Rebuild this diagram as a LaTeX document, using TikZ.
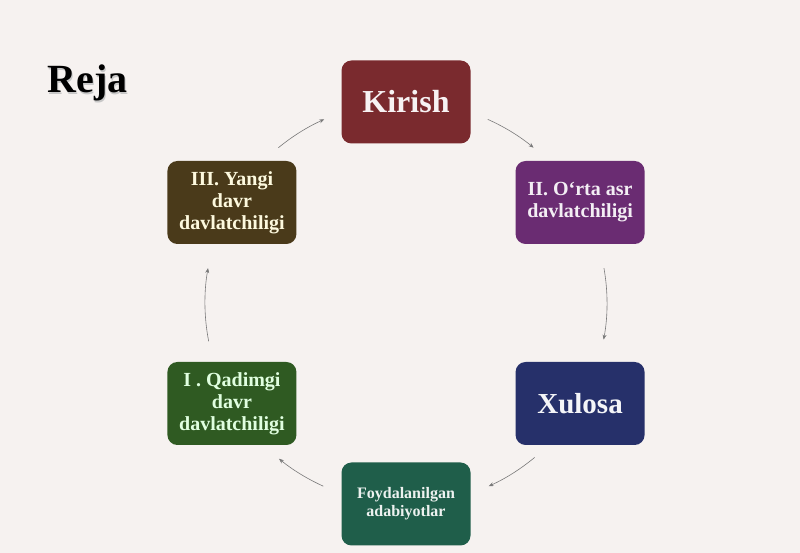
\documentclass[tikz,border=0pt]{standalone}
\usepackage{fontspec}
\setmainfont{Liberation Serif}
\usetikzlibrary{arrows.meta,calc}
\definecolor{bgc}{HTML}{F6F2F0}
\definecolor{cKir}{HTML}{7A2A2E}
\definecolor{cOrt}{HTML}{6A2C72}
\definecolor{cXul}{HTML}{26306A}
\definecolor{cFoy}{HTML}{1F5E4A}
\definecolor{cQad}{HTML}{2F5A22}
\definecolor{cYan}{HTML}{4A3A1A}
\definecolor{arrc}{HTML}{7A7A7A}
\tikzset{
  box/.style={rounded corners=10pt, minimum width=129pt, minimum height=83pt,
    inner sep=0pt, align=center},
  midtext/.style={font=\bfseries\fontsize{20}{22}\selectfont},
  arr/.style={draw=arrc, line width=0.6pt, -{Stealth[length=5pt,width=4pt]}}
}
\begin{document}
\begin{tikzpicture}[x=1pt,y=1pt]
\fill[bgc] (0,0) rectangle (800,553);
\useasboundingbox (0,0) rectangle (800,553);
\coordinate (ctr) at (406,250);
% title
\node[anchor=base, font=\bfseries\fontsize{40}{44}\selectfont, text=black!22] at (88.6,458.9) {Reja};
\node[anchor=base, font=\bfseries\fontsize{40}{44}\selectfont, text=black] (reja) at (87.5,460) {Reja};
% boxes
\node[box, fill=cKir, text=white!94!cKir, font=\bfseries\fontsize{32}{34}\selectfont] (kir) at ($(ctr)+(90:201)$) {Kirish};
\node[box, fill=cOrt, text=white!92!cOrt, midtext] (ort) at ($(ctr)+(30:201)$) {II. O‘rta asr\\davlatchiligi};
\node[box, fill=cXul, text=white!95!cXul, font=\bfseries\fontsize{29}{31}\selectfont] (xul) at ($(ctr)+(-30:201)$) {Xulosa};
\node[box, fill=cFoy, text=white!92!cFoy, font=\bfseries\fontsize{16}{17.7}\selectfont] (foy) at ($(ctr)+(-90:201)$) {Foydalanilgan\\adabiyotlar};
\node[box, fill=cQad, text=green!12!white, midtext] (qad) at ($(ctr)+(210:201)$) {I . Qadimgi\\davr\\davlatchiligi};
\node[box, fill=cYan, text=yellow!10!white!96!brown, midtext] (yan) at ($(ctr)+(150:201)$) {III. Yangi\\davr\\davlatchiligi};
% arc connectors
\coordinate (a1) at ($(ctr)+(66:201)$);
\coordinate (a2) at ($(ctr)+(10:201)$);
\coordinate (a3) at ($(ctr)+(-50.2:201)$);
\coordinate (a4) at ($(ctr)+(-114.3:201)$);
\coordinate (a5) at ($(ctr)+(191:201)$);
\coordinate (a6) at ($(ctr)+(129.4:201)$);
\draw[arr] (a1) arc[start angle=66, end angle=50.6, radius=201];
\draw[arr] (a2) arc[start angle=10, end angle=-10.5, radius=201];
\draw[arr] (a3) arc[start angle=-50.2, end angle=-65.7, radius=201];
\draw[arr] (a4) arc[start angle=-114.3, end angle=-129.2, radius=201];
\draw[arr] (a5) arc[start angle=191, end angle=170, radius=201];
\draw[arr] (a6) arc[start angle=129.4, end angle=114, radius=201];
\end{tikzpicture}
\end{document}
